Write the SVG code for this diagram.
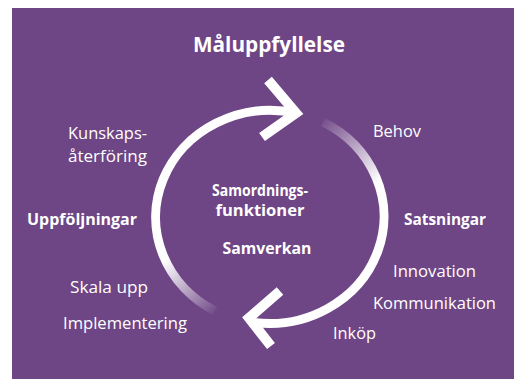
<svg xmlns="http://www.w3.org/2000/svg" width="514" height="379" viewBox="0 0 514 379">
  <defs>
    <style>
      .bg { fill: #6e4585; }
      .arc { fill: none; stroke-width: 9; stroke-linecap: butt; }
      .chev { fill: none; stroke: #ffffff; stroke-width: 10; stroke-linejoin: miter; stroke-miterlimit: 10; stroke-linecap: butt; }
      .t { font-family: "Open Sans", "Liberation Sans", sans-serif; fill: #ffffff; font-size: 16px; }
      .b { font-family: "Open Sans", "Liberation Sans", sans-serif; fill: #ffffff; font-size: 16px; font-weight: bold; }
      .title { font-family: "Open Sans", "Liberation Sans", sans-serif; fill: #ffffff; font-size: 22px; font-weight: bold; }
    </style>
    <linearGradient id="gA" gradientUnits="userSpaceOnUse" x1="215" y1="311" x2="168" y2="258">
      <stop offset="0" stop-color="#ffffff" stop-opacity="0.05"/>
      <stop offset="1" stop-color="#ffffff" stop-opacity="1"/>
    </linearGradient>
    <linearGradient id="gB" gradientUnits="userSpaceOnUse" x1="323" y1="120" x2="378" y2="182">
      <stop offset="0" stop-color="#ffffff" stop-opacity="0.05"/>
      <stop offset="1" stop-color="#ffffff" stop-opacity="1"/>
    </linearGradient>
  </defs>
  <rect x="0" y="0" width="514" height="379" fill="#ffffff"/>
  <rect class="bg" x="12" y="8" width="502" height="371"/>

  <g id="connectors">
    <path class="arc" stroke="url(#gA)" d="M 215 311 A 115 107 0 0 1 296 113"/>
    <polyline class="chev" points="268,80 296,113 262,137"/>
    <path class="arc" stroke="url(#gB)" d="M 323 122 A 115 107 0 0 1 250 322"/>
    <polyline class="chev" points="280,291 249,318 271,346"/>
  </g>

  <g id="title"><text class="title" x="269" y="52" text-anchor="middle" textLength="152" lengthAdjust="spacingAndGlyphs">Måluppfyllelse</text></g>
  <g id="center">
    <text class="b" x="260" y="196" text-anchor="middle" textLength="96" lengthAdjust="spacingAndGlyphs">Samordnings-</text>
    <text class="b" x="260" y="216" text-anchor="middle" textLength="89" lengthAdjust="spacingAndGlyphs">funktioner</text>
    <text class="b" x="267" y="254" text-anchor="middle" textLength="89" lengthAdjust="spacingAndGlyphs">Samverkan</text>
  </g>
  <g id="kunskap">
    <text class="t" x="68" y="139" textLength="79" lengthAdjust="spacingAndGlyphs">Kunskaps-</text>
    <text class="t" x="68" y="162" textLength="79" lengthAdjust="spacingAndGlyphs">återföring</text>
  </g>
  <g id="behov"><text class="t" x="373" y="137" textLength="48" lengthAdjust="spacingAndGlyphs">Behov</text></g>
  <g id="uppfoljningar"><text class="b" x="27" y="225" textLength="110" lengthAdjust="spacingAndGlyphs">Uppföljningar</text></g>
  <g id="satsningar"><text class="b" x="404" y="225" textLength="82" lengthAdjust="spacingAndGlyphs">Satsningar</text></g>
  <g id="innovation"><text class="t" x="393" y="277" textLength="83" lengthAdjust="spacingAndGlyphs">Innovation</text></g>
  <g id="kommunikation"><text class="t" x="373" y="309" textLength="123" lengthAdjust="spacingAndGlyphs">Kommunikation</text></g>
  <g id="inkop"><text class="t" x="333" y="339" textLength="43" lengthAdjust="spacingAndGlyphs">Inköp</text></g>
  <g id="skala"><text class="t" x="70" y="293" textLength="78" lengthAdjust="spacingAndGlyphs">Skala upp</text></g>
  <g id="implementering"><text class="t" x="63" y="329" textLength="124" lengthAdjust="spacingAndGlyphs">Implementering</text></g>
</svg>
